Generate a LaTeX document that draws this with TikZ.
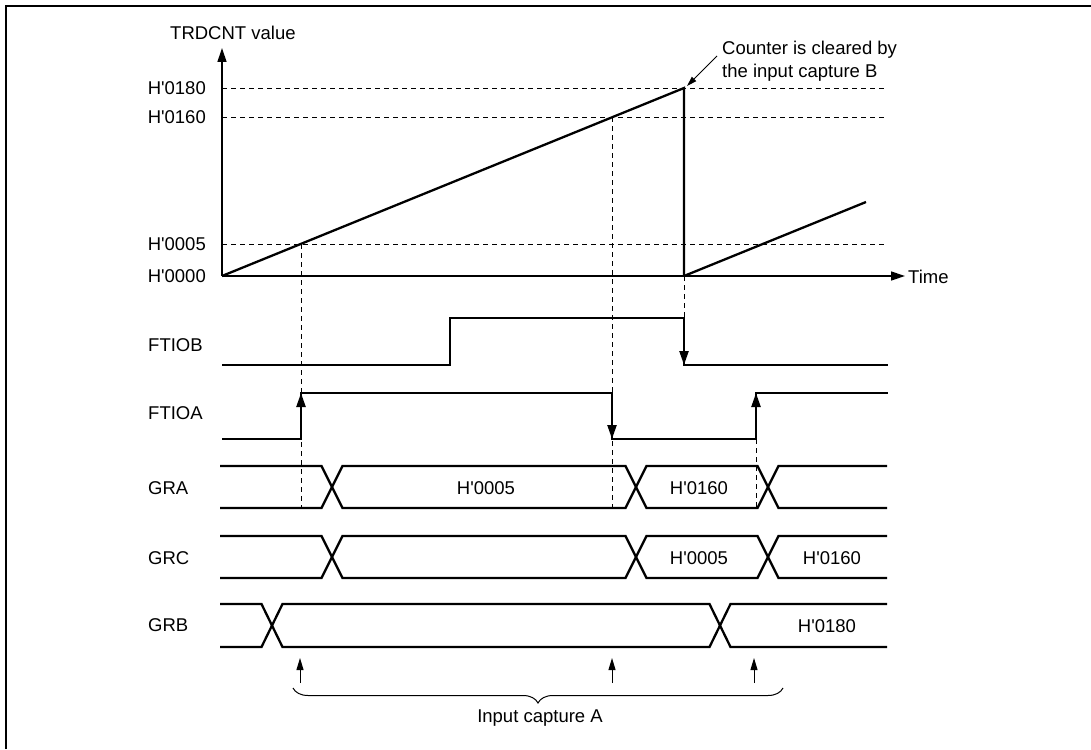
\documentclass[tikz,border=0pt]{standalone}
\usepackage{fontspec}
\setmainfont{Liberation Sans}
\usetikzlibrary{arrows.meta,decorations.pathreplacing}
\newcommand{\ap}{\textquotesingle}
\begin{document}
\begin{tikzpicture}[x=1pt,y=-1pt,
  sig/.style={line width=2.3pt, line join=miter},
  axisln/.style={line width=1.3pt},
  dsh/.style={line width=0.9pt, dash pattern=on 5pt off 4pt},
  lbl/.style={font=\fontsize{18.5}{22.5}\selectfont, inner sep=0pt},
  bigtip/.style={-{Triangle[length=14pt,width=9pt]}},
  smalltip/.style={line width=1pt,-{Triangle[length=12pt,width=7pt]}},
]
\useasboundingbox (0,0) rectangle (1091,749);
% frame
\draw[line width=2.3pt] (5.7,749) -- (5.7,5.7) -- (1091,5.7);

% dashed reference lines
\draw[dsh] (222,88) -- (887,88);
\draw[dsh] (222,117) -- (887,117);
\draw[dsh] (222,244) -- (887,244);
\draw[dsh] (301,244) -- (301,508);
\draw[dsh] (612,117) -- (612,508);
\draw[dsh] (684,276) -- (684,365);
\draw[dsh] (756,439) -- (756,508);

% axes
\draw[axisln,bigtip] (222,276) -- (222,48);
\draw[axisln,bigtip] (222,276) -- (905,276);

% counter ramp
\draw[sig] (222,276) -- (684,88) -- (684,276);
\draw[sig] (684,276) -- (866,202);

% axis labels
\node[lbl,anchor=west] (ylab) at (170,33) {TRDCNT value};
\node[lbl,anchor=west] (tlab) at (908,277) {Time};
\node[lbl,anchor=east] (v180) at (206,88) {H\ap0180};
\node[lbl,anchor=east] (v160) at (206,117) {H\ap0160};
\node[lbl,anchor=east] (v005) at (206,244) {H\ap0005};
\node[lbl,anchor=east] (v000) at (206,276) {H\ap0000};

% annotation
\node[lbl,anchor=north west,align=left] (ann) at (722,41) {Counter is cleared by\\the input capture B};
\coordinate (peak) at (687,86);
\draw[line width=1pt,-{Triangle[length=10pt,width=6pt]}] (717,56) -- (peak);

% signal labels
\node[lbl,anchor=west] (nB) at (148,345) {FTIOB};
\node[lbl,anchor=west] (nA) at (148,413) {FTIOA};
\node[lbl,anchor=west] (nGRA) at (148,488) {GRA};
\node[lbl,anchor=west] (nGRC) at (148,558) {GRC};
\node[lbl,anchor=west] (nGRB) at (148,625) {GRB};

% FTIOB
\draw[sig] (222,365) -- (450,365) -- (450,318) -- (684,318) -- (684,365) -- (888,365);
\draw[sig,bigtip] (684,330) -- (684,365);
% FTIOA
\draw[sig] (222,439) -- (301,439) -- (301,393) -- (612,393) -- (612,439) -- (756,439) -- (756,393) -- (888,393);
\draw[sig,bigtip] (301,430) -- (301,393);
\draw[sig,bigtip] (612,400) -- (612,439);
\draw[sig,bigtip] (756,430) -- (756,393);

% GRA
\draw[sig] (220,466) -- (321.5,466) -- (342.5,508) -- (625.5,508) -- (646.5,466) -- (757.5,466) -- (778.5,508) -- (887,508);
\draw[sig] (220,508) -- (321.5,508) -- (342.5,466) -- (625.5,466) -- (646.5,508) -- (757.5,508) -- (778.5,466) -- (887,466);
\node[lbl] (a1) at (486,488) {H\ap0005};
\node[lbl] (a2) at (699,488) {H\ap0160};
% GRC
\draw[sig] (220,536) -- (321.5,536) -- (342.5,578) -- (625.5,578) -- (646.5,536) -- (757.5,536) -- (778.5,578) -- (887,578);
\draw[sig] (220,578) -- (321.5,578) -- (342.5,536) -- (625.5,536) -- (646.5,578) -- (757.5,578) -- (778.5,536) -- (887,536);
\node[lbl] (c1) at (699,558) {H\ap0005};
\node[lbl] (c2) at (832,558) {H\ap0160};
% GRB
\draw[sig] (220,604) -- (261.5,604) -- (282.5,647) -- (709.5,647) -- (730.5,604) -- (887,604);
\draw[sig] (220,647) -- (261.5,647) -- (282.5,604) -- (709.5,604) -- (730.5,647) -- (887,647);
\node[lbl] (b1) at (827,626) {H\ap0180};

% capture arrows
\draw[smalltip] (300,683) -- (300,658);
\draw[smalltip] (612,683) -- (612,658);
\draw[smalltip] (754,683) -- (754,658);

% brace
\draw[line width=1pt,decorate,decoration={brace,amplitude=15pt,mirror}] (293,688) -- (783,688);
\node[lbl] (cap) at (540,718) {Input capture A};
\end{tikzpicture}
\end{document}
